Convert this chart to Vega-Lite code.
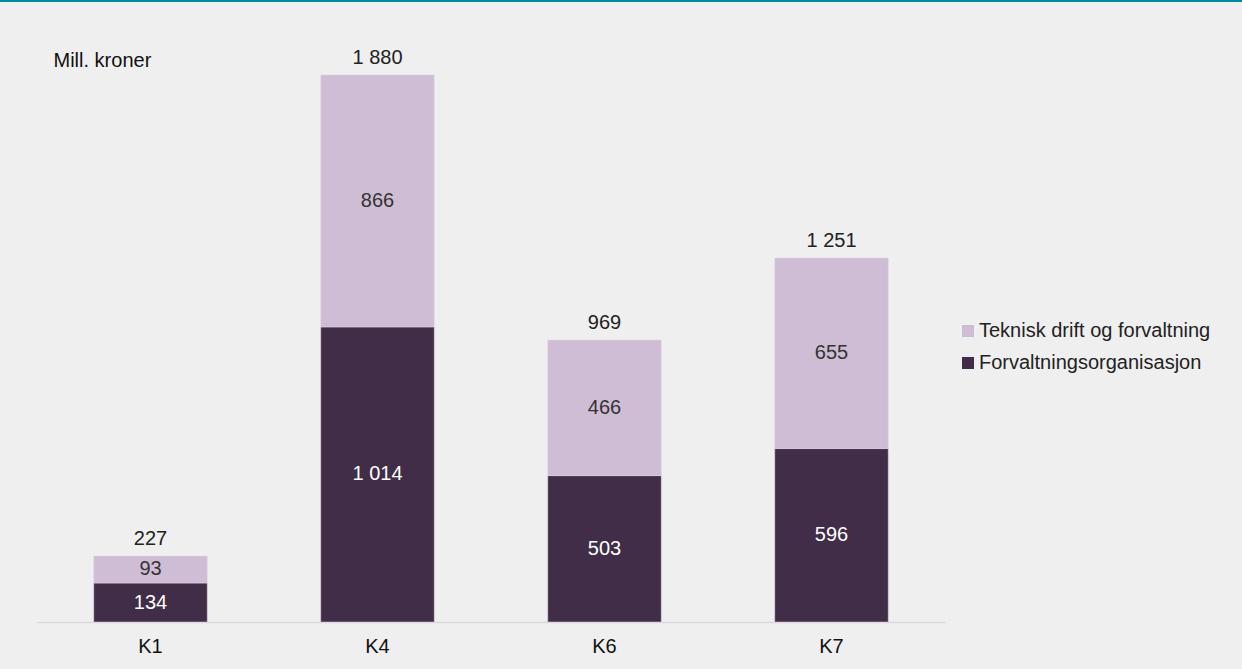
{
  "$schema": "https://vega.github.io/schema/vega-lite/v6.json",
  "width": 908,
  "height": 582,
  "autosize": {"type": "none"},
  "padding": {"left": 37, "top": 40, "right": 297, "bottom": 47},
  "background": "#efefef",
  "config": {
    "view": {"stroke": null},
    "font": "Arial, Liberation Sans",
    "locale": {"number": {"decimal": ",", "thousands": " ", "grouping": [3], "currency": ["", " kr"]}}
  },
  "data": {
    "values": [
      {"k": "K1", "kat": "Forvaltningsorganisasjon", "ord": 1, "v": 134},
      {"k": "K1", "kat": "Teknisk drift og forvaltning", "ord": 2, "v": 93},
      {"k": "K4", "kat": "Forvaltningsorganisasjon", "ord": 1, "v": 1014},
      {"k": "K4", "kat": "Teknisk drift og forvaltning", "ord": 2, "v": 866},
      {"k": "K6", "kat": "Forvaltningsorganisasjon", "ord": 1, "v": 503},
      {"k": "K6", "kat": "Teknisk drift og forvaltning", "ord": 2, "v": 466},
      {"k": "K7", "kat": "Forvaltningsorganisasjon", "ord": 1, "v": 596},
      {"k": "K7", "kat": "Teknisk drift og forvaltning", "ord": 2, "v": 655}
    ]
  },
  "encoding": {
    "x": {
      "field": "k", "type": "nominal", "sort": ["K1", "K4", "K6", "K7"],
      "scale": {"paddingInner": 0.5, "paddingOuter": 0.25},
      "axis": {"title": null, "labelAngle": 0, "ticks": false, "domainColor": "#ddd6e0", "domainWidth": 1.5, "labelFontSize": 20, "labelColor": "#111", "labelPadding": 14}
    }
  },
  "layer": [
    {
      "mark": {"type": "bar", "stroke": "#e0d6e4", "strokeWidth": 0.5},
      "encoding": {
        "y": {
          "field": "v", "type": "quantitative", "stack": "zero",
          "scale": {"domain": [0, 2000], "nice": false},
          "axis": {"title": "Mill. kroner", "labels": false, "ticks": false, "domain": false, "grid": false, "titleAngle": 0, "titleAlign": "left", "titleBaseline": "middle", "titleX": 16, "titleY": 20, "titleFontSize": 20, "titleFontWeight": "normal", "titleColor": "#111"}
        },
        "color": {
          "field": "kat", "type": "nominal",
          "scale": {"domain": ["Teknisk drift og forvaltning", "Forvaltningsorganisasjon"], "range": ["#cfbcd5", "#412d47"]},
          "legend": {"title": null, "orient": "none", "legendX": 921, "legendY": 281, "symbolType": "square", "symbolSize": 144, "symbolStrokeWidth": 0, "labelFontSize": 20, "labelColor": "#222", "labelLimit": 400, "rowPadding": 12, "labelOffset": 1}
        },
        "order": {"field": "ord", "type": "quantitative"}
      }
    },
    {
      "transform": [
        {"stack": "v", "groupby": ["k"], "sort": [{"field": "ord"}], "as": ["v0", "v1"]},
        {"calculate": "(datum.v0 + datum.v1) / 2", "as": "mid"}
      ],
      "mark": {"type": "text", "fontSize": 20, "baseline": "middle"},
      "encoding": {
        "y": {"field": "mid", "type": "quantitative"},
        "text": {"field": "v", "type": "quantitative", "format": ",d"},
        "color": {
          "condition": {"test": "datum.ord == 1", "value": "#ffffff"},
          "value": "#333333"
        }
      }
    },
    {
      "transform": [{"aggregate": [{"op": "sum", "field": "v", "as": "tot"}], "groupby": ["k"]}],
      "mark": {"type": "text", "fontSize": 20, "baseline": "bottom", "dy": -7, "color": "#222"},
      "encoding": {
        "y": {"field": "tot", "type": "quantitative"},
        "text": {"field": "tot", "type": "quantitative", "format": ",d"}
      }
    },
    {
      "data": {"values": [{}]},
      "mark": {"type": "rule", "color": "#008a9c", "strokeWidth": 2, "clip": false},
      "encoding": {
        "x": {"value": -37},
        "x2": {"value": 1205},
        "y": {"value": -39}
      }
    }
  ]
}
